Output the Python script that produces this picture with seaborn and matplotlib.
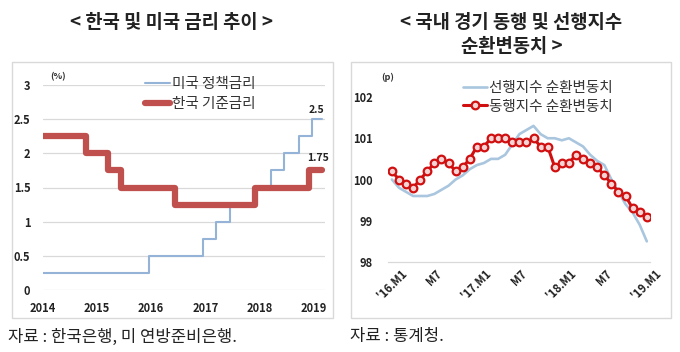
import pandas as pd
import matplotlib
matplotlib.use('Agg')
import matplotlib.pyplot as plt
from matplotlib.patches import Rectangle
import seaborn as sns

# 한국 기준금리 / 미국 정책금리 (변경 시점, 수준)
kr_dates = ['2014-01-01', '2014-10-15', '2015-03-15', '2015-06-15', '2016-06-10',
            '2017-11-30', '2018-11-30', '2019-03-01']
kr_rate = [2.25, 2.0, 1.75, 1.5, 1.25, 1.5, 1.75, 1.75]
us_dates = ['2014-01-01', '2015-12-16', '2016-12-14', '2017-03-15', '2017-06-14',
            '2017-12-13', '2018-03-21', '2018-06-13', '2018-09-26', '2018-12-19',
            '2019-03-01']
us_rate = [0.25, 0.5, 0.75, 1.0, 1.25, 1.5, 1.75, 2.0, 2.25, 2.5, 2.5]
year_ticks = ['2014', '2015', '2016', '2017', '2018', '2019']

# 경기 동행/선행지수 순환변동치 ('16.1 ~ '19.1, 월별)
coincident = [100.2, 100.0, 99.9, 99.8, 100.0, 100.2, 100.4, 100.5, 100.4, 100.2,
              100.3, 100.5, 100.8, 100.8, 101.0, 101.0, 101.0, 100.9, 100.9, 100.9,
              101.0, 100.8, 100.8, 100.3, 100.4, 100.4, 100.6, 100.5, 100.4, 100.3,
              100.1, 99.9, 99.7, 99.6, 99.3, 99.2, 99.1]
leading = [100.0, 99.8, 99.7, 99.6, 99.6, 99.6, 99.65, 99.75, 99.85, 100.0,
           100.1, 100.25, 100.35, 100.4, 100.5, 100.5, 100.6, 100.85, 101.1, 101.2,
           101.3, 101.1, 101.0, 101.0, 100.95, 101.0, 100.9, 100.8, 100.6, 100.45,
           100.35, 100.0, 99.7, 99.4, 99.2, 98.9, 98.5]
month_ticks = [0, 6, 12, 18, 24, 30, 36]
month_labels = ["'16.M1", 'M7', "'17.M1", 'M7', "'18.M1", 'M7', "'19.M1"]

sns.set_theme(style='white')
plt.rcParams['font.family'] = ['Noto Sans CJK KR', 'DejaVu Sans']
plt.rcParams['axes.unicode_minus'] = False

fig = plt.figure(figsize=(6.8, 3.52), dpi=100)
W, H = 680, 352

def fx(px):
    return px / W

def fy(py):
    return 1 - py / H

# 외곽 박스
for x0, x1 in [(12, 333), (351, 671)]:
    fig.patches.append(Rectangle((fx(x0), fy(318)), fx(x1) - fx(x0), fy(62) - fy(318),
                                 transform=fig.transFigure, fill=False,
                                 edgecolor='#d9d9d9', linewidth=1))

# ---- 왼쪽: 금리 ----
ax1 = fig.add_axes([fx(43), fy(290), fx(325) - fx(43), fy(85) - fy(290)])
kr = pd.DataFrame({'date': pd.to_datetime(kr_dates), 'rate': kr_rate})
us = pd.DataFrame({'date': pd.to_datetime(us_dates), 'rate': us_rate})
sns.lineplot(data=us, x='date', y='rate', ax=ax1, drawstyle='steps-post',
             color='#95b3d7', linewidth=1.5, label='미국 정책금리')
sns.lineplot(data=kr, x='date', y='rate', ax=ax1, drawstyle='steps-post',
             color='#c0504d', linewidth=4.5, label='한국 기준금리')
ax1.set_ylim(0, 3)
ax1.set_yticks([0, 0.5, 1, 1.5, 2, 2.5, 3])
ax1.set_yticklabels(['0', '0.5', '1', '1.5', '2', '2.5', '3'])
ax1.set_xlim(pd.Timestamp('2014-01-01'), pd.Timestamp('2019-03-20'))
ax1.set_xticks(pd.to_datetime([y + '-01-01' for y in year_ticks]))
ax1.set_xticklabels(year_ticks)
ax1.grid(axis='y', color='#d9d9d9', linewidth=0.9)
ax1.set_axisbelow(True)
for s in ax1.spines.values():
    s.set_visible(False)
ax1.tick_params(length=0, labelsize=8, colors='#222222')
ax1.tick_params(axis='y', pad=9)
ax1.tick_params(axis='x', pad=9)
for t in ax1.get_xticklabels() + ax1.get_yticklabels():
    t.set_fontweight('bold')
ax1.set_xlabel('')
ax1.set_ylabel('')
ax1.text(fx(50), fy(77), '(%)', transform=fig.transFigure, fontsize=6.5,
         fontweight='bold', color='#333333', ha='left', va='center')
ax1.annotate('2.5', (us['date'].iloc[-1], us_rate[-1]), xytext=(-4, 3),
             textcoords='offset points', fontsize=7.5, fontweight='bold',
             color='#222222', ha='center', va='bottom')
ax1.annotate('1.75', (kr['date'].iloc[-1], kr_rate[-1]), xytext=(-3, 5),
             textcoords='offset points', fontsize=7.5, fontweight='bold',
             color='#222222', ha='center', va='bottom')
ax1.legend(loc='upper left', bbox_to_anchor=(0.335, 1.075), frameon=False,
           fontsize=10.5, handlelength=1.7, handletextpad=0.15, labelspacing=0.4,
           borderpad=0, labelcolor='#333333')

# ---- 오른쪽: 경기지수 ----
ax2 = fig.add_axes([fx(388), fy(262), fx(650) - fx(388), fy(97) - fy(262)])
idx = pd.DataFrame({'m': range(len(leading)), 'leading': leading,
                    'coincident': coincident})
sns.lineplot(data=idx, x='m', y='leading', ax=ax2, color='#a9c6de',
             linewidth=1.9, label='선행지수 순환변동치')
sns.lineplot(data=idx, x='m', y='coincident', ax=ax2, color='#d01010',
             linewidth=2.2, marker='o', markersize=5.5, markerfacecolor='#f4d4d4',
             markeredgecolor='#d01010', markeredgewidth=1.6,
             label='동행지수 순환변동치')
ax2.set_ylim(98, 102)
ax2.set_yticks([98, 99, 100, 101, 102])
ax2.set_xlim(-0.55, 36.45)
ax2.set_xticks(month_ticks)
ax2.set_xticklabels(month_labels, rotation=45, ha='center')
for s in ['left', 'right', 'top']:
    ax2.spines[s].set_visible(False)
ax2.spines['bottom'].set_color('#d9d9d9')
ax2.spines['bottom'].set_linewidth(0.9)
ax2.tick_params(length=0, labelsize=8, colors='#222222')
ax2.tick_params(axis='y', pad=11)
ax2.tick_params(axis='x', pad=4)
for t in ax2.get_xticklabels() + ax2.get_yticklabels():
    t.set_fontweight('bold')
ax2.set_xlabel('')
ax2.set_ylabel('')
ax2.text(fx(381), fy(77), '(p)', transform=fig.transFigure, fontsize=6.5,
         fontweight='bold', color='#333333', ha='left', va='center')
ax2.legend(loc='upper left', bbox_to_anchor=(0.26, 1.14), frameon=False,
           fontsize=10.5, handlelength=1.6, handletextpad=0.15, labelspacing=0.3,
           borderpad=0, labelcolor='#333333')

# 제목과 출처
fig.text(fx(171), fy(22), '< 한국 및 미국 금리 추이 >', fontsize=13.5,
         fontweight='bold', color='#222222', ha='center', va='center')
fig.text(fx(511), fy(22), '< 국내 경기 동행 및 선행지수', fontsize=13.5,
         fontweight='bold', color='#222222', ha='center', va='center')
fig.text(fx(512), fy(47), '순환변동치 >', fontsize=13.5,
         fontweight='bold', color='#222222', ha='center', va='center')
fig.text(fx(8), fy(337), '자료 : 한국은행, 미 연방준비은행.', fontsize=12,
         color='#222222', ha='left', va='center')
fig.text(fx(350), fy(337), '자료 : 통계청.', fontsize=12,
         color='#222222', ha='left', va='center')

fig.savefig('out.png', dpi=100)
